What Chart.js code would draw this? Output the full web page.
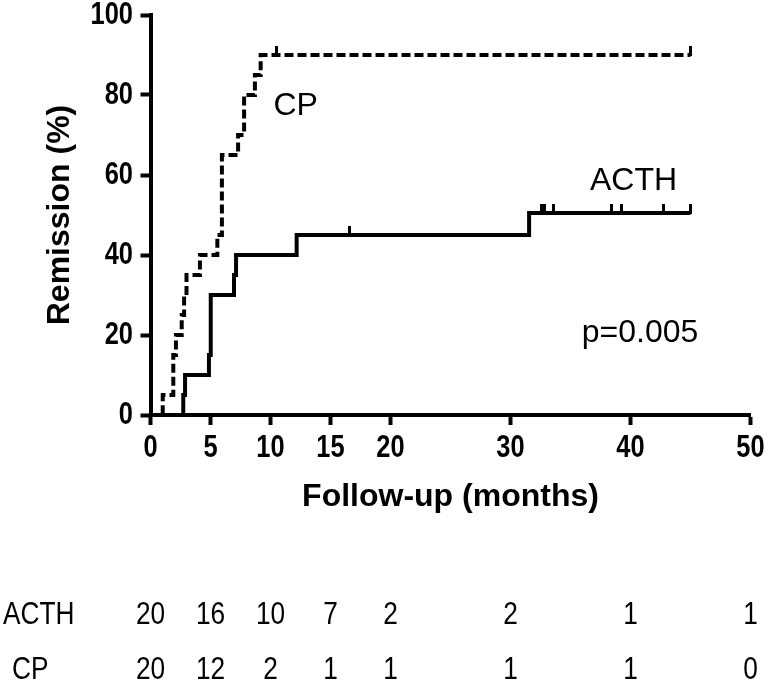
<!DOCTYPE html>
<html>
<head>
<meta charset="utf-8">
<script src="https://cdn.jsdelivr.net/npm/chart.js@4.4.1/dist/chart.umd.min.js"></script>
<style>
  body { margin: 0; background: #fff; }
  canvas { display: block; }
</style>
</head>
<body>
<canvas id="kmChart" width="770" height="683"></canvas>
<script>
// x axis tick values (25, 35, 45 are skipped in the figure)
const xTicks = [0, 5, 10, 15, 20, 30, 40, 50];

// ACTH arm: step times (months) and cumulative remission (%)
const acthTimes  = [0, 2.73, 2.88, 4.87, 5.02, 6.96, 7.13, 12.18, 31.55, 45];
const acthValues = [0, 5, 10, 15, 30, 35, 40, 45, 50.5, 50.5];
const acthCensored = [16.57, 32.6, 32.8, 33.57, 38.43, 39.27, 42.73, 45];

// CP arm
const cpTimes  = [0, 1.02, 1.9, 2.12, 2.6, 2.8, 3.0, 4.12, 5.57, 5.95, 7.3, 7.8, 8.7, 9.18, 45];
const cpValues = [0, 5, 15, 20, 25, 30, 35, 40, 45, 65, 70, 80, 85, 90, 90];
const cpCensored = [10.46, 45];

// numbers at risk
const riskTimes  = [0, 5, 10, 15, 20, 30, 40, 50];
const acthAtRisk = [20, 16, 10, 7, 2, 2, 1, 1];
const cpAtRisk   = [20, 12, 2, 1, 1, 1, 1, 0];

// text placed in the plot (data coordinates)
const curveLabels = [
  { text: 'CP', x: 12.1, y: 77.3 },
  { text: 'ACTH', x: 40.25, y: 58.5 },
  { text: 'p=0.005', x: 40.8, y: 20.4 }
];

const FONT = '"Liberation Sans", Arial, sans-serif';

// value of a step curve at time t
function stepValue(times, values, t) {
  let v = values[0];
  times.forEach((tt, i) => { if (tt <= t) v = values[i]; });
  return v;
}

// little vertical tick that sits on top of the curve
function censorMark() {
  const c = document.createElement('canvas');
  c.width = 3; c.height = 18;
  const g = c.getContext('2d');
  g.fillStyle = '#000';
  g.fillRect(0, 0, 3, 10);
  return c;
}

// condensed text (the figure uses a narrow face)
function narrowText(ctx, text, px, py, align) {
  ctx.save();
  ctx.translate(px, py);
  ctx.scale(0.82, 1);
  ctx.textAlign = align;
  ctx.fillText(text, 0, 0);
  ctx.restore();
}

const annotate = {
  id: 'annotate',
  afterDraw(chart) {
    const { ctx, scales: { x, y } } = chart;
    ctx.save();
    ctx.fillStyle = '#000';
    ctx.textBaseline = 'middle';

    // tick labels
    ctx.font = 'bold 31px ' + FONT;
    x.ticks.forEach(t => narrowText(ctx, String(t.value), x.getPixelForValue(t.value), 448, 'center'));
    y.ticks.forEach(t => narrowText(ctx, String(t.value), 133, y.getPixelForValue(t.value), 'right'));

    // curve labels and p value
    ctx.font = '32px ' + FONT;
    ctx.textAlign = 'center';
    curveLabels.forEach(l => {
      ctx.fillText(l.text, x.getPixelForValue(l.x), y.getPixelForValue(l.y));
    });

    // number at risk table
    narrowText(ctx, 'ACTH', 3, 615, 'left');
    narrowText(ctx, 'CP', 12, 670, 'left');
    riskTimes.forEach((t, i) => {
      const px = x.getPixelForValue(t);
      narrowText(ctx, String(acthAtRisk[i]), px, 615, 'center');
      narrowText(ctx, String(cpAtRisk[i]), px, 670, 'center');
    });
    ctx.restore();
  }
};

const mark = censorMark();
const toPoints = (ts, vs) => ts.map((t, i) => ({ x: t, y: vs[i] }));

new Chart(document.getElementById('kmChart'), {
  type: 'line',
  data: {
    datasets: [
      {
        label: 'ACTH',
        data: toPoints(acthTimes, acthValues),
        borderColor: '#000',
        borderWidth: 4,
        stepped: 'before',
        pointRadius: 0,
        fill: false
      },
      {
        label: 'CP',
        data: toPoints(cpTimes, cpValues),
        borderColor: '#000',
        borderWidth: 4,
        borderDash: [9, 4],
        stepped: 'before',
        pointRadius: 0,
        fill: false
      },
      {
        type: 'scatter',
        label: 'ACTH censored',
        data: acthCensored.map(t => ({ x: t, y: stepValue(acthTimes, acthValues, t) })),
        pointStyle: mark,
        pointRadius: 5,
        showLine: false
      },
      {
        type: 'scatter',
        label: 'CP censored',
        data: cpCensored.map(t => ({ x: t, y: stepValue(cpTimes, cpValues, t) })),
        pointStyle: mark,
        pointRadius: 5,
        showLine: false
      }
    ]
  },
  options: {
    responsive: false,
    animation: false,
    layout: { padding: { left: 0, right: 19.5, top: 15, bottom: 167 } },
    plugins: { legend: { display: false }, tooltip: { enabled: false } },
    scales: {
      x: {
        type: 'linear',
        min: 0,
        max: 50,
        afterFit: s => { s.height = 101; },
        afterBuildTicks: s => { s.ticks = xTicks.map(v => ({ value: v })); },
        grid: { drawOnChartArea: false, tickLength: 10, tickWidth: 4, tickColor: '#000' },
        border: { color: '#000', width: 4 },
        ticks: { display: false },
        title: {
          display: true,
          text: 'Follow-up (months)',
          color: '#000',
          padding: { top: 0, bottom: 0 },
          font: { family: FONT, size: 32, weight: 'bold' }
        }
      },
      y: {
        min: 0,
        max: 100,
        afterFit: s => { s.width = 150.5; },
        grid: { drawOnChartArea: false, tickLength: 10, tickWidth: 4, tickColor: '#000' },
        border: { color: '#000', width: 4 },
        ticks: { display: false, stepSize: 20 },
        title: {
          display: true,
          text: 'Remission (%)',
          color: '#000',
          padding: { top: 41, bottom: 0 },
          font: { family: FONT, size: 32, weight: 'bold' }
        }
      }
    }
  },
  plugins: [annotate]
});
</script>
</body>
</html>
